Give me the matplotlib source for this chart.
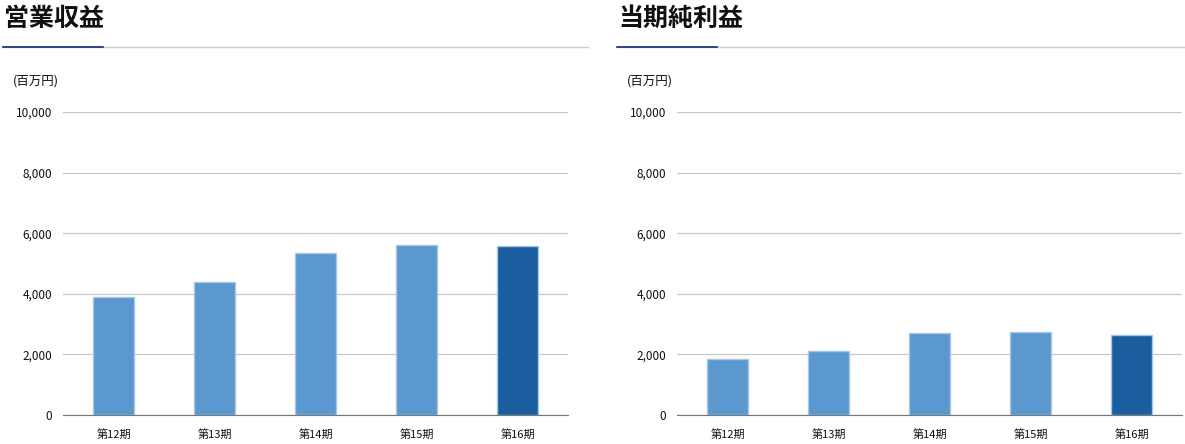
import matplotlib.pyplot as plt
from matplotlib.ticker import FuncFormatter

plt.rcParams['font.family'] = ['Noto Sans CJK JP', 'DejaVu Sans']

periods = ['第12期', '第13期', '第14期', '第15期', '第16期']
revenue = [3890, 4385, 5345, 5610, 5575]
net_income = [1860, 2125, 2690, 2725, 2625]
titles = ['営業収益', '当期純利益']
unit_label = '(百万円)'
y_ticks = [0, 2000, 4000, 6000, 8000, 10000]

W, H = 1185, 444
LIGHT = '#5b98cf'
DARK = '#1b5e9f'


def px(x, y):
    # pixel coords (top-left origin) -> figure fraction
    return x / W, 1 - y / H


def draw_panel(fig, x0, title, values):
    # heading + underline
    fig.text(*px(x0 + 1, 19), title, fontsize=18, fontweight='bold',
             va='center', ha='left', color='#111111')
    fig.add_artist(plt.Line2D([px(x0, 0)[0], px(x0 + 585, 0)[0]],
                              [px(0, 47)[1]] * 2, color='#cccccc', lw=1))
    fig.add_artist(plt.Line2D([px(x0, 0)[0], px(x0 + 100, 0)[0]],
                              [px(0, 47)[1]] * 2, color='#0b2c6e', lw=1.2))
    fig.text(*px(x0 + 10, 81), unit_label, fontsize=9, va='center',
             ha='left', color='#111111')

    ax_left = x0 + 60
    ax = fig.add_axes([ax_left / W, (H - 415) / H, 505 / W, 303 / H])
    colors = [LIGHT] * (len(values) - 1) + [DARK]
    ax.bar(range(len(values)), values, width=0.4, color=colors,
           edgecolor='#a8c7e6', linewidth=1, zorder=3)
    ax.set_xlim(-0.5, len(values) - 0.5)
    ax.set_ylim(0, 10000)
    ax.set_yticks(y_ticks)
    ax.yaxis.set_major_formatter(FuncFormatter(lambda v, p: f'{int(v):,}'))
    ax.set_xticks(range(len(values)))
    ax.set_xticklabels(periods)
    ax.grid(axis='y', color='#c8c8c8', lw=0.9, zorder=0)
    for s in ['top', 'right', 'left']:
        ax.spines[s].set_visible(False)
    ax.spines['bottom'].set_color('#777777')
    ax.tick_params(axis='both', length=0, colors='#111111')
    ax.tick_params(axis='y', pad=8, labelsize=8.5)
    ax.tick_params(axis='x', pad=10, labelsize=8)


fig = plt.figure(figsize=(W / 100, H / 100), dpi=100)
draw_panel(fig, 3, titles[0], revenue)
draw_panel(fig, 617, titles[1], net_income)
fig.savefig('out.png', dpi=100)
